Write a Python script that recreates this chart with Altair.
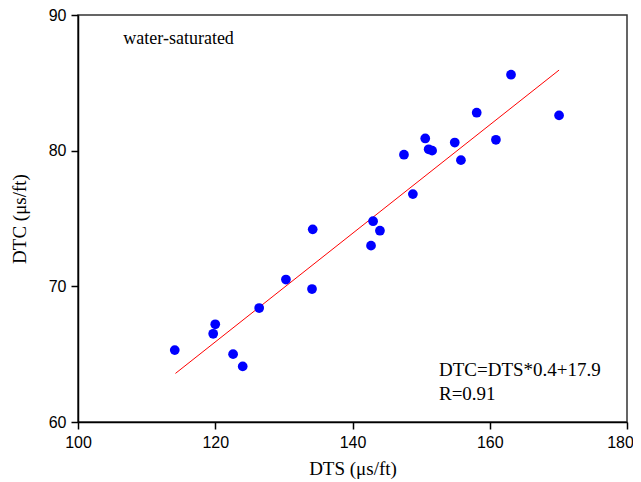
import altair as alt
import pandas as pd

# Data
dts = [114.1, 119.7, 120.0, 122.6, 124.0, 126.4, 130.3, 134.1, 134.2, 142.7, 143.0,
       144.0, 147.5, 148.8, 150.6, 151.1, 151.6, 154.9, 155.8, 158.1, 160.9, 163.1, 170.1]
dtc = [65.3, 66.5, 67.2, 65.0, 64.1, 68.4, 70.5, 69.8, 74.2, 73.0, 74.8,
       74.1, 79.7, 76.8, 80.9, 80.1, 80.0, 80.6, 79.3, 82.8, 80.8, 85.6, 82.6]
fit_x = [114.2, 170.1]
slope, intercept = 0.4, 17.9

x_ticks = [100, 120, 140, 160, 180]
y_ticks = [60, 70, 80, 90]

pts = pd.DataFrame({"DTS": dts, "DTC": dtc})
fit = pd.DataFrame({"DTS": fit_x})

labels = pd.DataFrame({
    "x": [106.6, 152.6, 152.6],
    "y": [87.86, 63.39, 61.62],
    "text": ["water-saturated", "DTC=DTS*0.4+17.9", "R=0.91"],
    "size": [18, 19, 19],
})

xs = alt.Scale(domain=[100, 180], nice=False, zero=False)
ys = alt.Scale(domain=[60, 90], nice=False, zero=False)

xaxis = alt.Axis(values=x_ticks, title="DTS (μs/ft)", grid=False, tickSize=7,
                 tickColor="black", domainColor="black", domainWidth=1.5, tickWidth=1.5,
                 labelFont="Liberation Sans", labelFontSize=16, labelColor="black",
                 labelPadding=5, labelFlush=False, labelOverlap=False,
                 labelOffset={"condition": {"test": "datum.value === 180", "value": -7}, "value": 0},
                 titleFont="Liberation Serif", titleFontSize=19,
                 titleFontWeight="normal", titleColor="black", titlePadding=9)
yaxis = alt.Axis(values=y_ticks, title="DTC (μs/ft)", grid=False, tickSize=7,
                 tickColor="black", domainColor="black", domainWidth=1.5, tickWidth=1.5,
                 labelFont="Liberation Sans", labelFontSize=16, labelColor="black",
                 labelPadding=5, labelFlush=False, labelOverlap=False,
                 titleFont="Liberation Serif", titleFontSize=19,
                 titleFontWeight="normal", titleColor="black", titlePadding=19)

points = alt.Chart(pts).mark_circle(color="#0000FF", opacity=1, size=95).encode(
    x=alt.X("DTS:Q", scale=xs, axis=xaxis),
    y=alt.Y("DTC:Q", scale=ys, axis=yaxis),
)

line = alt.Chart(fit).transform_calculate(
    DTC=f"datum.DTS * {slope} + {intercept}"
).mark_line(color="#FF0000", strokeWidth=1).encode(
    x=alt.X("DTS:Q", scale=xs),
    y=alt.Y("DTC:Q", scale=ys),
)

text = alt.Chart(labels).mark_text(align="left", baseline="alphabetic",
                                   font="Liberation Serif", color="black").encode(
    x=alt.X("x:Q", scale=xs),
    y=alt.Y("y:Q", scale=ys),
    text="text:N",
    size=alt.Size("size:Q", scale=None, legend=None),
)

chart = alt.layer(line, points, text).properties(
    width=549, height=407,
    autosize=alt.AutoSizeParams(type="none"),
    padding={"left": 70, "top": 7, "right": 6, "bottom": 58},
).configure_view(stroke="#333333", strokeWidth=1.5)

chart.save("out.html", embed_options={"renderer": "svg", "actions": False})
